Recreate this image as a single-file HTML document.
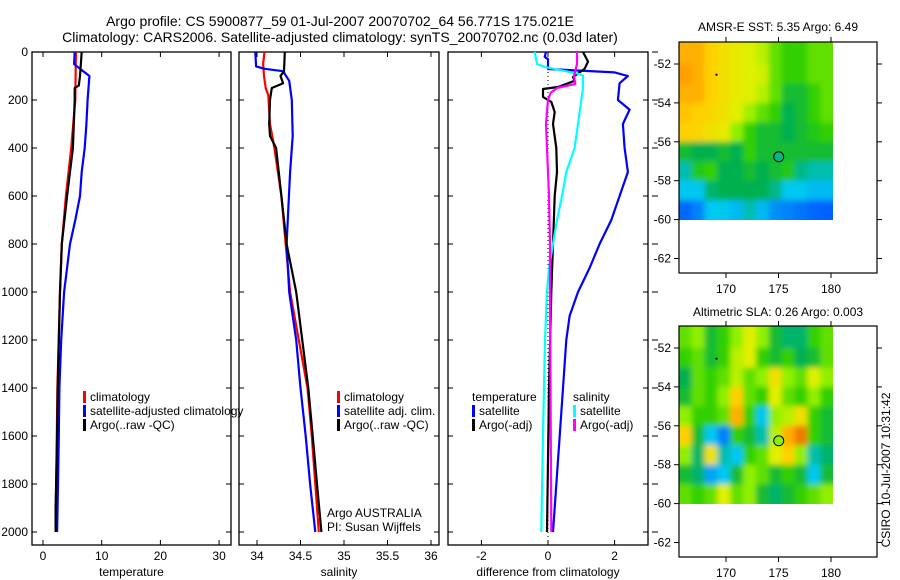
<!DOCTYPE html>
<html><head><meta charset="utf-8">
<style>
html,body{margin:0;padding:0;background:#fff;}
svg{display:block;font-family:"Liberation Sans",sans-serif;}
</style></head>
<body>
<svg id="fig" width="900" height="580" viewBox="0 0 900 580" xmlns="http://www.w3.org/2000/svg">
<defs>
<filter id="smooth1" filterUnits="userSpaceOnUse" x="679" y="42" width="154" height="178">
 <feGaussianBlur stdDeviation="3"/>
 <feComponentTransfer><feFuncA type="linear" slope="50"/></feComponentTransfer>
</filter>
<filter id="smooth2" filterUnits="userSpaceOnUse" x="679" y="326" width="154" height="178">
 <feGaussianBlur stdDeviation="3"/>
 <feComponentTransfer><feFuncA type="linear" slope="50"/></feComponentTransfer>
</filter>
</defs>
<text x="340" y="26" font-size="14" text-anchor="middle">Argo profile: CS 5900877_59 01-Jul-2007 20070702_64 56.771S 175.021E</text>
<text x="340" y="42" font-size="14" text-anchor="middle">Climatology: CARS2006. Satellite-adjusted climatology: synTS_20070702.nc (0.03d later)</text>
<text x="778" y="31" font-size="12" text-anchor="middle">AMSR-E SST: 5.35 Argo: 6.49</text>
<text x="778" y="316" font-size="12" text-anchor="middle">Altimetric SLA: 0.26 Argo: 0.003</text>
<text x="0" y="0" font-size="12" text-anchor="middle" transform="translate(890,470) rotate(-90)">CSIRO 10-Jul-2007 10:31:42</text>
<g id="plots"></g>
</svg>
<script>
// ---------- profile data ----------
const depthTicks = [0,200,400,600,800,1000,1200,1400,1600,1800,2000];
const tempTicks = [0,10,20,30];
const salTicks = [34,34.5,35,35.5,36];
const diffTicks = [-2,0,2];

const tClimDepth = [0,200,400,600,800,1000,1400,1600,2000];
const tClimVal   = [5.6,5.5,4.8,3.9,3.2,2.9,2.45,2.35,2.15];
const tSatDepth = [0,50,70,100,200,300,400,500,600,700,800,1000,1200,1400,1600,1800,2000];
const tSatVal   = [5.4,5.3,6.3,7.9,7.6,7.4,7.1,6.6,6.3,5.5,4.6,3.6,3.1,2.8,2.7,2.55,2.4];
const tArgoDepth = [0,100,140,150,200,400,600,800,1000,1400,1600,1900,2000];
const tArgoVal   = [6.6,6.3,6.1,5.4,5.4,5.1,4.1,3.2,2.9,2.5,2.4,2.15,2.15];

const sClimDepth = [0,50,100,150,180,300,400,600,800,1000,1400,1600,2000];
const sClimVal   = [34.086,34.07,34.08,34.1,34.13,34.15,34.2,34.28,34.33,34.38,34.58,34.63,34.71];
const sSatDepth = [0,60,70,80,120,200,350,500,800,1000,1200,1400,1600,1800,2000];
const sSatVal   = [33.98,33.99,34.09,34.3,34.37,34.4,34.41,34.38,34.34,34.37,34.45,34.5,34.56,34.61,34.67];
const sArgoDepth = [0,80,100,130,150,200,300,350,400,600,800,1000,1400,1600,1800,2000];
const sArgoVal   = [34.32,34.31,34.27,34.3,34.17,34.15,34.14,34.15,34.22,34.28,34.34,34.45,34.59,34.64,34.69,34.74];

const dTSatDepth = [0,20,30,71,85,100,130,200,240,300,400,500,600,700,800,900,1000,1100,1200,1400,1600,2000];
const dTSatVal   = [-0.06,-0.1,0,0,2.0,2.4,2.15,2.1,2.45,2.25,2.3,2.4,2.15,1.9,1.55,1.25,0.9,0.65,0.55,0.45,0.35,0.15];
const dTArgoDepth = [0,40,70,104,120,146,154,187,208,250,300,400,500,600,800,1000,1400,2000];
const dTArgoVal   = [1.05,1.2,1.1,0.75,0.8,0.3,-0.15,-0.15,0.1,0.2,0.15,0.25,0.27,0.2,0.15,0.1,0.03,-0.03];
const dSSatDepth = [0,50,62,92,100,150,200,300,400,500,600,700,800,900,1000,1200,1600,2000];
const dSSatVal   = [-0.4,-0.33,-0.1,0.95,1.05,1.05,1.0,0.9,0.8,0.55,0.42,0.27,0.15,0.03,-0.03,-0.09,-0.15,-0.2];
const dSArgoDepth = [0,50,100,133,150,170,200,300,400,600,800,1000,2000];
const dSArgoVal   = [0.87,0.87,0.78,0.82,0.27,0.08,0.0,-0.06,-0.03,0.03,0.06,0.06,0.1];

// ---------- map data (rows lat 51..60, cols lon 165.5..180.2) ----------
const mapLonTicks = [170,175,180];
const mapLatTicks = [52,54,56,58,60,62];
const sstGrid = [
 [0.85,0.85,0.8,0.75,0.72,0.7,0.65,0.55,0.5,0.5,0.55,0.55],
 [0.88,0.85,0.8,0.75,0.72,0.7,0.68,0.55,0.5,0.5,0.55,0.55],
 [0.85,0.85,0.8,0.75,0.72,0.7,0.65,0.55,0.45,0.45,0.5,0.55],
 [0.82,0.8,0.78,0.75,0.7,0.62,0.55,0.5,0.42,0.45,0.5,0.55],
 [0.8,0.78,0.75,0.72,0.6,0.5,0.45,0.45,0.42,0.45,0.48,0.5],
 [0.45,0.42,0.42,0.45,0.42,0.5,0.45,0.45,0.45,0.45,0.45,0.45],
 [0.35,0.48,0.5,0.42,0.42,0.45,0.42,0.45,0.48,0.38,0.35,0.35],
 [0.3,0.3,0.4,0.42,0.42,0.42,0.42,0.38,0.3,0.3,0.28,0.28],
 [0.16,0.2,0.3,0.3,0.28,0.35,0.28,0.22,0.2,0.18,0.16,0.15]
];
const slaGrid = [
 [0.55,0.6,0.45,0.5,0.6,0.7,0.6,0.45,0.4,0.4,0.5,0.55],
 [0.5,0.55,0.45,0.5,0.65,0.7,0.5,0.45,0.5,0.42,0.45,0.55],
 [0.42,0.55,0.5,0.55,0.65,0.55,0.6,0.75,0.6,0.55,0.7,0.6],
 [0.45,0.55,0.5,0.6,0.8,0.55,0.5,0.7,0.55,0.5,0.6,0.5],
 [0.6,0.5,0.5,0.55,0.85,0.5,0.3,0.6,0.65,0.75,0.5,0.45],
 [0.8,0.45,0.3,0.2,0.5,0.45,0.35,0.65,0.85,0.95,0.5,0.45],
 [0.6,0.4,0.75,0.35,0.3,0.5,0.55,0.7,0.8,0.6,0.35,0.4],
 [0.45,0.4,0.25,0.3,0.45,0.6,0.55,0.45,0.5,0.45,0.3,0.45],
 [0.55,0.5,0.55,0.7,0.55,0.6,0.45,0.4,0.45,0.5,0.55,0.6]
];
const argoLon = 175.02, argoLat = 56.77;

const NS="http://www.w3.org/2000/svg";
const root=document.getElementById('plots');
function mk(tag,attrs,parent){const e=document.createElementNS(NS,tag);for(const k in attrs)e.setAttribute(k,attrs[k]);(parent||root).appendChild(e);return e;}
function txt(s,attrs,parent){const e=mk('text',attrs,parent);e.textContent=s;return e;}

const yD = d => 52 + 0.24*d;
const panels = [
 {name:'temperature-panel', x0:32, x1:231, sx:v=>43+5.87*v, ticks:tempTicks, label:'temperature', ylabels:true},
 {name:'salinity-panel', x0:239, x1:439, sx:v=>257+87*(v-34), ticks:salTicks, label:'salinity'},
 {name:'difference-panel', x0:448, x1:648, sx:v=>548+33.3*v, ticks:diffTicks, label:'difference from climatology', rticks:true}
];
const Y0=52, Y1=545;
panels.forEach(p=>{
  const g=mk('g',{});
  
  
  const fr=mk('rect',{x:p.x0,y:Y0,width:p.x1-p.x0,height:Y1-Y0,fill:'none',stroke:'#000','stroke-width':1.3},g);
  
  
  p.ticks.forEach(t=>{
    const x=p.sx(t);
    mk('line',{x1:x,x2:x,y1:Y0,y2:Y0+5,stroke:'#000'},g);
    mk('line',{x1:x,x2:x,y1:Y1,y2:Y1-5,stroke:'#000'},g);
    const tl=txt(String(t),{x:x,y:560,'font-size':12,'text-anchor':'middle'},g);
    
    
  });
  const at=txt(p.label,{x:(p.x0+p.x1)/2,y:576,'font-size':12,'text-anchor':'middle'},g);
  
  
  depthTicks.forEach(d=>{
    const y=yD(d);
    mk('line',{x1:p.x0,x2:p.x0+5,y1:y,y2:y,stroke:'#000'},g);
    mk('line',{x1:p.x1,x2:p.x1-5,y1:y,y2:y,stroke:'#000'},g);
    if(p.rticks) mk('line',{x1:p.x1+4,x2:p.x1+10,y1:y,y2:y,stroke:'#000'},g);
    if(p.ylabels){
      const yl=txt(String(d),{x:28,y:y+4,'font-size':12,'text-anchor':'end'},g);
      
      
    }
  });
  p.g=g;
});
function line(p,depths,vals,color,name,w){
  const pts=depths.map((d,i)=>p.sx(vals[i]).toFixed(1)+','+yD(d).toFixed(1)).join(' ');
  const l=mk('polyline',{points:pts,fill:'none',stroke:color,'stroke-width':w||2.2,'stroke-linejoin':'round'},p.g);
  
  
}
const [pT,pS,pD]=panels;
line(pT,tClimDepth,tClimVal,'#f00','temp-climatology-line');
line(pT,tSatDepth,tSatVal,'#00f','temp-satellite-line');
line(pT,tArgoDepth,tArgoVal,'#000','temp-argo-line');
line(pS,sClimDepth,sClimVal,'#f00','sal-climatology-line');
line(pS,sSatDepth,sSatVal,'#00f','sal-satellite-line');
line(pS,sArgoDepth,sArgoVal,'#000','sal-argo-line');
const zl=mk('line',{x1:pD.sx(0),x2:pD.sx(0),y1:Y0,y2:Y1,stroke:'#000','stroke-dasharray':'1,3'},pD.g);


line(pD,dTSatDepth,dTSatVal,'#00f','diff-temp-satellite-line');
line(pD,dTArgoDepth,dTArgoVal,'#000','diff-temp-argo-line');
line(pD,dSSatDepth,dSSatVal,'#0ff','diff-sal-satellite-line');
line(pD,dSArgoDepth,dSArgoVal,'#f0f','diff-sal-argo-line');

function legend(entries,mx,y0,parent){
  entries.forEach((e,i)=>{
    const y=y0+i*14;
    const g=mk('g',{},parent);
    
    
    if(e.c) mk('rect',{x:mx,y:y-6,width:3,height:12,fill:e.c},g);
    txt(e.t,{x:mx+(e.c?7:0),y:y+4,'font-size':12},g);
  });
}
legend([{c:'#f00',t:'climatology'},{c:'#00f',t:'satellite-adjusted climatology'},{c:'#000',t:'Argo(..raw -QC)'}],83,397,pT.g);
legend([{c:'#f00',t:'climatology'},{c:'#00f',t:'satellite adj. clim.'},{c:'#000',t:'Argo(..raw -QC)'}],337,397,pS.g);
legend([{t:'temperature'},{c:'#00f',t:'satellite'},{c:'#000',t:'Argo(-adj)'}],472,397,pD.g);
legend([{t:'salinity'},{c:'#0ff',t:'satellite'},{c:'#f0f',t:'Argo(-adj)'}],573,397,pD.g);
legend([{t:'Argo AUSTRALIA'},{t:'PI: Susan Wijffels'}],327,513,pS.g);

// ---------- maps ----------
const stops=[[0,[0,0,160]],[0.15,[0,96,255]],[0.3,[0,200,240]],[0.42,[0,176,80]],[0.5,[48,208,0]],[0.6,[144,240,0]],[0.7,[224,240,0]],[0.8,[255,208,0]],[0.9,[255,144,0]],[1,[224,96,0]]];
function cmap(v){
  for(let i=1;i<stops.length;i++){if(v<=stops[i][0]){const a=stops[i-1],b=stops[i];const t=(v-a[0])/(b[0]-a[0]);return 'rgb('+a[1].map((c,k)=>Math.round(c+(b[1][k]-c)*t)).join(',')+')';}}
  return 'rgb(224,96,0)';
}
function map(name,top,grid,filt){
  const g=mk('g',{});
  
  
  const lonX=l=>726+(l-170)*10.5;
  const latY=la=>top+22+(la-52)*19.45;
  const lon0=165.5,lon1=180.2,lat0=51,lat1=60;
  const cw=(lonX(lon1)-lonX(lon0))/grid[0].length, ch=(latY(lat1)-latY(lat0))/grid.length;
  const cg=mk('g',{filter:'url(#'+filt+')'},g);
  
  
  grid.forEach((row,r)=>row.forEach((v,c)=>{
    const cell=mk('rect',{x:(lonX(lon0)+c*cw).toFixed(1),y:(latY(lat0)+r*ch).toFixed(1),width:(cw+0.6).toFixed(1),height:(ch+0.6).toFixed(1),fill:cmap(v)},cg);
    
    
  }));
  const fr=mk('rect',{x:679,y:top,width:198,height:231,fill:'none',stroke:'#000','stroke-width':1.2},g);
  
  
  mapLonTicks.forEach(l=>{
    const x=lonX(l);
    mk('line',{x1:x,x2:x,y1:top,y2:top-5,stroke:'#000'},g);
    mk('line',{x1:x,x2:x,y1:top+231,y2:top+236,stroke:'#000'},g);
    const t=txt(String(l),{x:x,y:top+251,'font-size':12,'text-anchor':'middle'},g);
    
    
  });
  mapLatTicks.forEach(la=>{
    const y=latY(la);
    mk('line',{x1:679,x2:674,y1:y,y2:y,stroke:'#000'},g);
    mk('line',{x1:877,x2:882,y1:y,y2:y,stroke:'#000'},g);
    const t=txt('-'+la,{x:671,y:y+4,'font-size':12,'text-anchor':'end'},g);
    
    
  });
  const m=mk('circle',{cx:lonX(argoLon),cy:latY(argoLat),r:5,fill:cmap(grid[6][9]),stroke:'#000','stroke-width':1},g);
  
  
  mk('rect',{x:lonX(169),y:latY(52.5),width:2,height:2,fill:'#000'},g);
}
map('sst-map',42,sstGrid,'smooth1');
map('sla-map',326,slaGrid,'smooth2');
</script>
</body></html>
